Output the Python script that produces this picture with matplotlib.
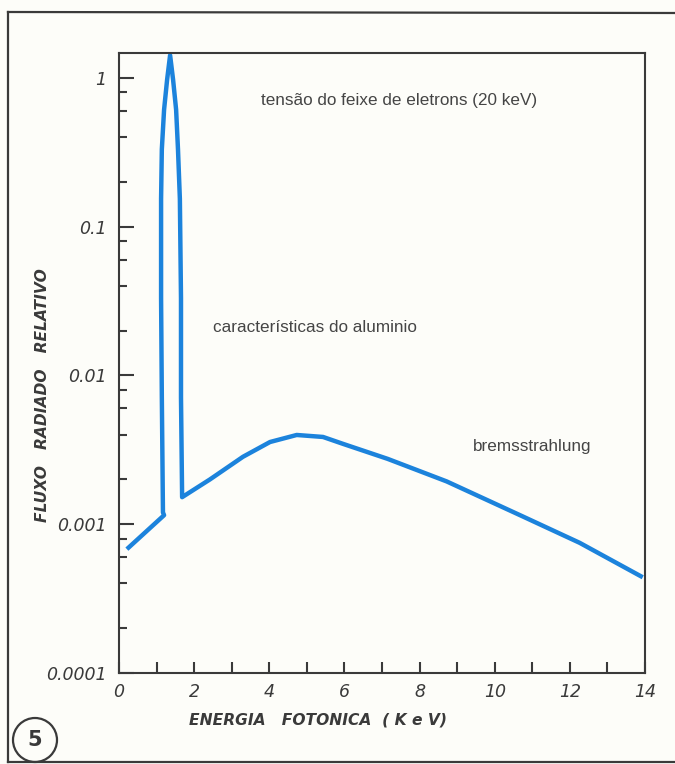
"""
Espectro de raios X de uma amostra de aluminio (figura 5).
Linha caracteristica do Al sobre o fundo de bremsstrahlung, escala log.
"""
import matplotlib.pyplot as plt
from matplotlib.lines import Line2D
from matplotlib.patches import Ellipse
from matplotlib.ticker import FixedLocator, NullFormatter

W, H = 675, 764

BLUE = "#1c83dc"
INK = "#3a3a3a"
PAPER = "#fdfdf9"

# curva: energia (keV) x fluxo relativo
energy = [0.21, 1.20, 1.17, 1.14, 1.12, 1.12, 1.14, 1.20, 1.28, 1.36,
          1.44, 1.52, 1.57, 1.62, 1.65, 1.65, 1.68,
          2.42, 3.30, 4.02, 4.73, 5.43, 5.96, 7.15, 8.72, 10.74, 12.26, 13.94]
flux = [0.00068, 0.00115, 0.0012, 0.0071, 0.033, 0.154, 0.331, 0.612, 0.97, 1.42,
        0.97, 0.612, 0.331, 0.154, 0.033, 0.0071, 0.00152,
        0.0020, 0.00284, 0.00357, 0.00398, 0.00386, 0.00347, 0.00275, 0.00194,
        0.00113, 0.00075, 0.00044]

ytick_vals = [1e-4, 1e-3, 1e-2, 1e-1, 1]
ytick_labels = ["0.0001", "0.001", "0.01", "0.1", "1"]
xtick_vals = [0, 2, 4, 6, 8, 10, 12, 14]

fig = plt.figure(figsize=(W / 100, H / 100), dpi=100, facecolor=PAPER)


def fx(px):
    return px / W


def fy(py):
    return 1 - py / H


ax = fig.add_axes([fx(119), fy(673), fx(645) - fx(119), fy(53) - fy(673)])
ax.set_facecolor(PAPER)
ax.plot(energy, flux, color=BLUE, lw=3.2, solid_joinstyle="round", solid_capstyle="butt")
ax.set_yscale("log")
ax.set_xlim(0, 14)
ax.set_ylim(1e-4, 1.47)

for s in ax.spines.values():
    s.set_color(INK)
    s.set_linewidth(1.5)

ax.yaxis.set_major_locator(FixedLocator(ytick_vals))
minor = [m * d for d in [1e-4, 1e-3, 1e-2, 1e-1] for m in (2, 4, 6, 8)]
ax.yaxis.set_minor_locator(FixedLocator(minor))
ax.yaxis.set_minor_formatter(NullFormatter())
ax.set_yticklabels(ytick_labels)
ax.set_xticks(range(15), minor=False)
ax.set_xticklabels([str(v) if v in xtick_vals else "" for v in range(15)])

ax.tick_params(axis="y", which="major", direction="in", length=11, width=1.5,
               color=INK, pad=9, labelsize=12.5, labelcolor=INK)
ax.tick_params(axis="y", which="minor", direction="in", length=6, width=1.5, color=INK)
ax.tick_params(axis="x", which="major", direction="in", length=8, width=1.5,
               color=INK, pad=7, labelsize=12.5, labelcolor=INK)
for lab in ax.get_xticklabels() + ax.get_yticklabels():
    lab.set_fontstyle("italic")

lbl = dict(fontsize=11.2, fontstyle="italic", fontweight="bold", color=INK,
           ha="center", va="center")
fig.text(fx(318), fy(720), "ENERGIA   FOTONICA  ( K e V)", **lbl)
fig.text(fx(43), fy(395), "FLUXO   RADIADO   RELATIVO", rotation=90, **lbl)

txt = dict(family="Liberation Sans", fontsize=12.3, color="#454545", ha="center", va="center")
fig.text(fx(399), fy(100), "tensão do feixe de eletrons (20 keV)", **txt)
fig.text(fx(315), fy(328), "características do aluminio", **txt)
fig.text(fx(532), fy(447), "bremsstrahlung", **txt)

# moldura da pagina
frame = dict(color=INK, lw=1.6, transform=fig.transFigure)
fig.add_artist(Line2D([fx(8), fx(8)], [fy(12), fy(762)], **frame))
fig.add_artist(Line2D([fx(8), 1.0], [fy(12), fy(13)], **frame))
fig.add_artist(Line2D([fx(8), 1.0], [fy(762), fy(762)], **frame))

# numero da figura
fig.add_artist(Ellipse((fx(35), fy(740)), 44 / W, 44 / H, transform=fig.transFigure,
                       fill=False, ec=INK, lw=1.6))
fig.text(fx(35), fy(740), "5", ha="center", va="center", fontsize=15,
         fontweight="bold", color=INK, family="Liberation Sans Narrow")

fig.savefig("out.png", dpi=100, facecolor=PAPER)
